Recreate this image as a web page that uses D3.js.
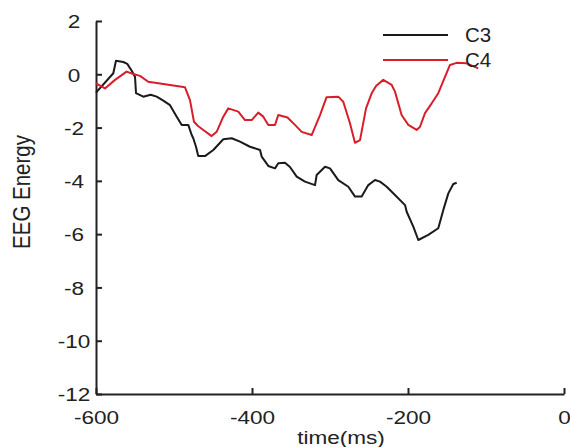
<!DOCTYPE html>
<html>
<head>
<meta charset="utf-8">
<script src="https://cdn.jsdelivr.net/npm/d3@7"></script>
<style>
  html, body { margin: 0; padding: 0; background: #fff; }
  svg { display: block; }
  text { font-family: "Liberation Sans", Arial, sans-serif; fill: #222; }
</style>
</head>
<body>
<svg id="chart" width="570" height="447"></svg>
<script>
// ---- data ----
const xTicks = [-600, -400, -200, 0];
const yTicks = [2, 0, -2, -4, -6, -8, -10, -12];
const seriesNames = ["C3", "C4"];
const c3Time = [-600, -577.8, -574.4, -565, -559.9, -554.2, -550, -548.7, -539.4, -529.9, -522.2, -513.7, -505.1, -496.5, -490.1, -481.7, -477.3, -475.3, -471.8, -468.9, -460.3, -449.6, -436.8, -426, -415.4, -402.6, -389.7, -387.6, -379.1, -370.5, -366.3, -357.7, -351.3, -342.7, -332.1, -319.2, -317.1, -306.4, -300, -289.4, -276.5, -267.9, -259.4, -250.9, -242.3, -235.9, -227.3, -216.7, -203.8, -201.7, -193.2, -186.8, -174, -161.2, -154.7, -148.3, -141.9, -137.6];
const c3Values = [-0.69, 0.04, 0.51, 0.46, 0.39, 0.13, -0.09, -0.71, -0.84, -0.77, -0.84, -0.99, -1.16, -1.59, -1.90, -1.90, -2.28, -2.40, -2.72, -3.07, -3.07, -2.84, -2.44, -2.40, -2.53, -2.72, -2.84, -3.09, -3.44, -3.53, -3.34, -3.32, -3.48, -3.84, -4.03, -4.16, -3.78, -3.47, -3.53, -3.97, -4.22, -4.59, -4.59, -4.16, -3.97, -4.03, -4.22, -4.53, -4.91, -5.16, -5.72, -6.22, -6.03, -5.78, -5.09, -4.47, -4.12, -4.07];
const c4Time = [-600, -588.5, -575.6, -560.8, -552.2, -543.6, -533, -485.9, -479.5, -474.4, -469.2, -462.4, -451.8, -445.3, -436.8, -430.4, -417.6, -409, -400.4, -392, -385.5, -379.1, -370.5, -366.3, -354.5, -344.9, -336.3, -323.5, -312.8, -304.4, -289.4, -283, -274.4, -268, -261.5, -253.8, -246.5, -241, -231.7, -220.9, -216.7, -208.2, -199.6, -188.9, -184.6, -178.2, -169.6, -161.2, -156.8, -146.2, -137.6, -124.8, -109.9];
const c4Values = [-0.34, -0.53, -0.21, 0.10, 0.01, -0.06, -0.28, -0.49, -0.97, -1.78, -1.94, -2.09, -2.32, -2.16, -1.59, -1.28, -1.40, -1.72, -1.72, -1.44, -1.59, -1.90, -1.90, -1.53, -1.62, -1.90, -2.16, -2.28, -1.53, -0.86, -0.84, -1.03, -1.84, -2.57, -2.47, -1.28, -0.71, -0.44, -0.21, -0.40, -0.65, -1.53, -1.90, -2.09, -1.97, -1.46, -1.09, -0.71, -0.40, 0.35, 0.43, 0.41, 0.22];
const seriesColors = ["#1a1a1a", "#d91e2a"];

// ---- chart ----
const svg = d3.select("#chart");
const x = d3.scaleLinear().domain([-600, 0]).range([96, 564]);
const y = d3.scaleLinear().domain([-12, 2]).range([394, 21]);

const axisColor = "#222";
const fmt = d => String(d);

// y axis
const gy = svg.append("g").attr("transform", `translate(${x(-600)},0)`)
  .call(d3.axisLeft(y).tickValues(yTicks).tickSizeInner(-6).tickSizeOuter(0).tickFormat(fmt));
gy.select(".domain").attr("stroke", axisColor).attr("stroke-width", 2);
gy.selectAll(".tick line").attr("stroke", axisColor).attr("stroke-width", 2);
gy.selectAll(".tick text")
  .attr("x", null).attr("dy", null)
  .attr("text-anchor", "middle")
  .attr("dominant-baseline", "central")
  .attr("transform", "translate(-22,0) scale(1.22,1)")
  .style("font-size", "18.5px")
  .style("font-family", '"Liberation Sans", Arial, sans-serif')
  .attr("fill", "#222");

// x axis
const gx = svg.append("g").attr("transform", `translate(0,${y(-12)})`)
  .call(d3.axisBottom(x).tickValues(xTicks).tickSizeInner(-6).tickSizeOuter(0).tickFormat(fmt));
gx.select(".domain").attr("stroke", axisColor).attr("stroke-width", 2);
gx.selectAll(".tick line").attr("stroke", axisColor).attr("stroke-width", 2);
gx.selectAll(".tick text")
  .attr("y", null).attr("dy", null)
  .attr("text-anchor", "middle")
  .attr("transform", "translate(0,30) scale(1.22,1)")
  .style("font-size", "18.5px")
  .style("font-family", '"Liberation Sans", Arial, sans-serif')
  .attr("fill", "#222");

// axis titles
svg.append("text")
  .attr("text-anchor", "middle")
  .attr("transform", "translate(341,444) scale(1.22,1)")
  .style("font-size", "18.5px")
  .text("time(ms)");

svg.append("text")
  .attr("text-anchor", "middle")
  .attr("dominant-baseline", "central")
  .attr("transform", "translate(22,192) scale(1.2,1) rotate(-90)")
  .style("font-size", "20.5px")
  .text("EEG Energy");

// lines
const series = [
  { name: seriesNames[0], t: c3Time, v: c3Values, color: seriesColors[0] },
  { name: seriesNames[1], t: c4Time, v: c4Values, color: seriesColors[1] }
];
const line = d3.line().x(d => x(d[0])).y(d => y(d[1]));
series.forEach(s => {
  svg.append("path")
    .datum(s.t.map((t, i) => [t, s.v[i]]))
    .attr("fill", "none")
    .attr("stroke", s.color)
    .attr("stroke-width", 2)
    .attr("stroke-linejoin", "round")
    .attr("d", line);
});

// legend
const legend = svg.append("g");
series.forEach((s, i) => {
  const ly = 35 + i * 25;
  legend.append("line")
    .attr("x1", 383).attr("x2", 448).attr("y1", ly).attr("y2", ly)
    .attr("stroke", s.color).attr("stroke-width", 2);
  legend.append("text")
    .attr("x", 465).attr("y", ly + 7)
    .style("font-size", "20.5px")
    .text(s.name);
});
</script>
</body>
</html>
